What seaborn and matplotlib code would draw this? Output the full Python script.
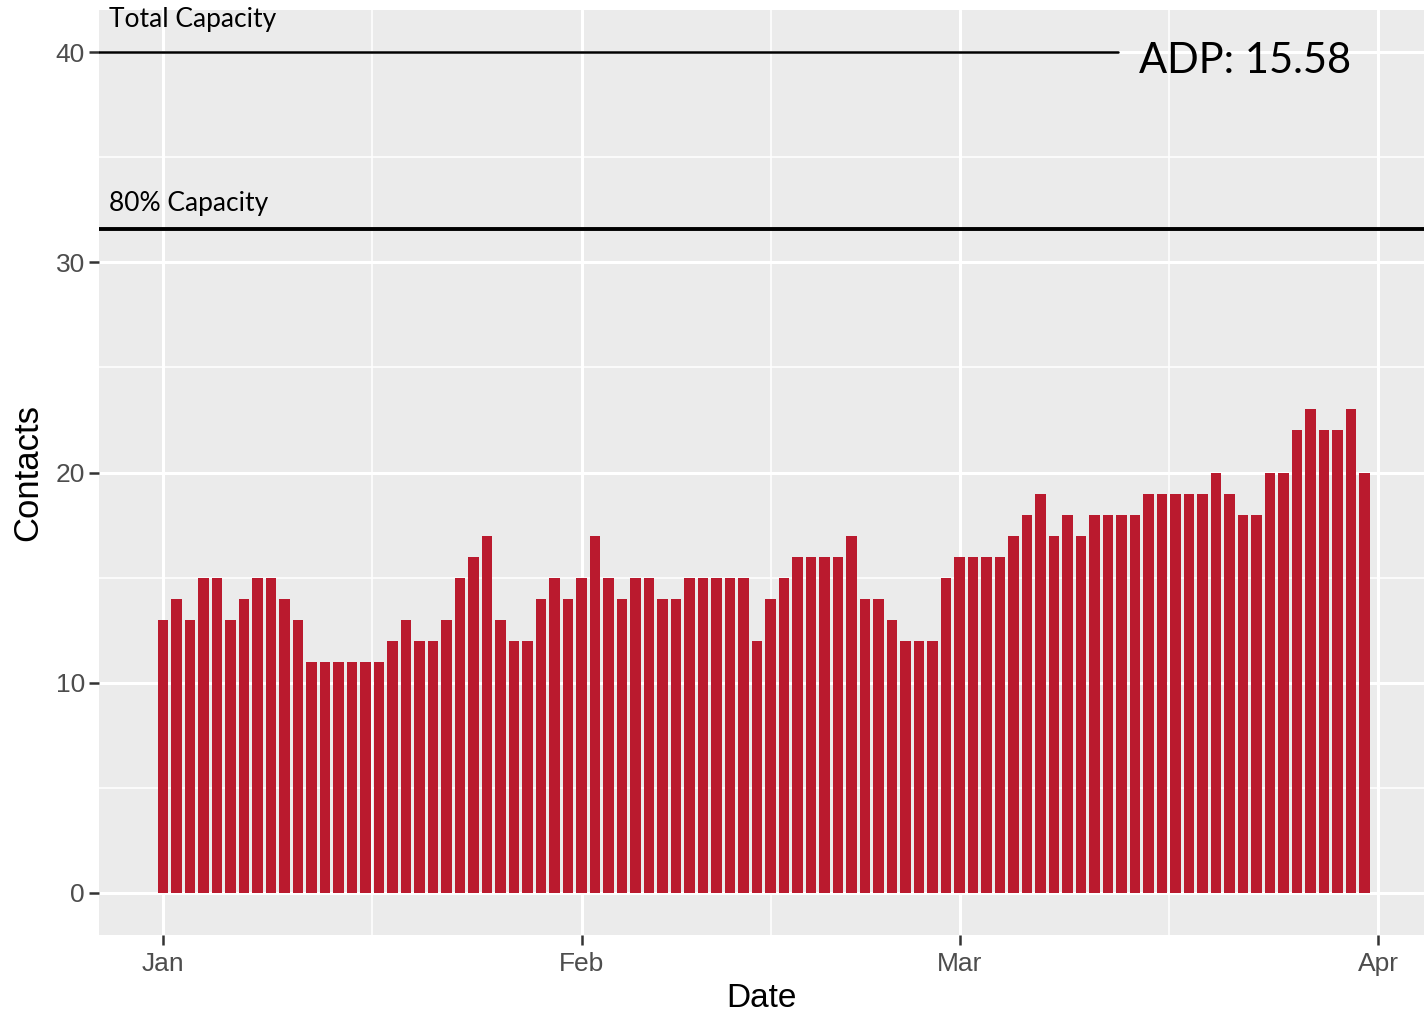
import seaborn as sns
import matplotlib.pyplot as plt
import matplotlib.ticker as mtick
import pandas as pd
import numpy as np

# daily contacts
jan_counts = [13, 14, 13, 15, 15, 13, 14, 15, 15, 14, 13, 11, 11, 11, 11, 11, 11,
              12, 13, 12, 12, 13, 15, 16, 17, 13, 12, 12, 14, 15, 14]
feb_counts = [15, 17, 15, 14, 15, 15, 14, 14, 15, 15, 15, 15, 15, 12, 14, 15, 16,
              16, 16, 16, 17, 14, 14, 13, 12, 12, 12, 15]
mar_counts = [16, 16, 16, 16, 17, 18, 19, 17, 18, 17, 18, 18, 18, 18, 19, 19, 19,
              19, 19, 20, 19, 18, 18, 20, 20, 22, 23, 22, 22, 23, 20]

start_date = '2019-01-01'
month_labels = ['Jan', 'Feb', 'Mar', 'Apr']
total_capacity = 40
capacity_80 = 31.6   # where the 80% line sits in the picture
y_ticks = [0, 10, 20, 30, 40]

contacts = jan_counts + feb_counts + mar_counts
dates = pd.date_range(start_date, periods=len(contacts), freq='D')
df = pd.DataFrame({'Date': dates, 'Contacts': contacts})
df['day'] = (df['Date'] - df['Date'].iloc[0]).dt.days

month_starts = pd.date_range(start_date, periods=len(month_labels), freq='MS')
month_pos = [(m - dates[0]).days for m in month_starts]
month_mid = [(a + b) / 2 for a, b in zip(month_pos[:-1], month_pos[1:])]

adp = np.mean(contacts)

sns.set_theme(style='darkgrid', rc={'axes.facecolor': '#EBEBEB',
                                    'grid.color': 'white'})
plt.rcParams['font.family'] = ['Liberation Sans', 'DejaVu Sans']

fig = plt.figure(figsize=(14.24, 10.17), dpi=100)
ax = fig.add_axes([99/1424, 82/1017, 1 - 99/1424, 925/1017])

sns.barplot(data=df, x='day', y='Contacts', native_scale=True, width=0.78,
            color='#BA1A2E', saturation=1, linewidth=0, ax=ax, zorder=3)

ax.set_xlim(-4.74, 93.4)
ax.set_ylim(-2.0, 42.0)

ax.set_xticks(month_pos)
ax.set_xticklabels(month_labels)
ax.xaxis.set_minor_locator(mtick.FixedLocator(month_mid))
ax.set_yticks(y_ticks)
ax.yaxis.set_minor_locator(mtick.MultipleLocator(5))

ax.grid(which='major', color='white', lw=2.2, zorder=0)
ax.grid(which='minor', color='white', lw=1.1, zorder=0)
ax.set_axisbelow(True)
for s in ax.spines.values():
    s.set_visible(False)

ax.tick_params(which='major', bottom=True, left=True, length=7, width=1.8,
               color='#333333', labelcolor='#4D4D4D', labelsize=19, pad=3)
ax.tick_params(axis='x', which='major', pad=5)
ax.tick_params(which='minor', bottom=False, left=False, length=0)

ax.set_xlabel('Date', fontsize=24, color='black', labelpad=5)
ax.set_ylabel('Contacts', fontsize=25, color='black', labelpad=8)

# capacity lines and labels
tr = ax.get_yaxis_transform()
ax.axhline(total_capacity, xmin=0, xmax=0.769, color='black', lw=1.8, zorder=4)
ax.axhline(capacity_80, color='black', lw=2.8, zorder=4)
ax.text(0.0075, 41.2, 'Total Capacity', transform=tr, fontsize=19,
        family=['Lato', 'DejaVu Sans'], va='baseline', color='black')
ax.text(0.0075, 32.44, '80% Capacity', transform=tr, fontsize=19,
        family=['Lato', 'DejaVu Sans'], va='baseline', color='black')
ax.text(0.785, 39.0, 'ADP: ' + '{:.2f}'.format(adp), transform=tr, fontsize=30,
        family=['Lato', 'DejaVu Sans'], va='baseline', color='black')

plt.savefig('out.png', dpi=100)
plt.close()
